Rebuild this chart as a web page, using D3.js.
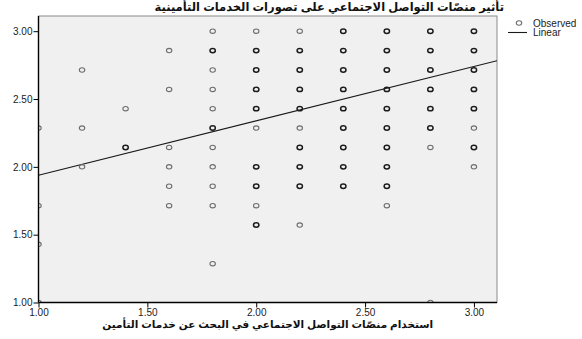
<!DOCTYPE html>
<html>
<head>
<meta charset="utf-8">
<script src="https://cdn.jsdelivr.net/npm/d3@7/dist/d3.min.js"></script>
<style>
  body { margin: 0; background: #fff; }
  svg text { font-family: "Liberation Sans", Arial, "DejaVu Sans", sans-serif; }
</style>
</head>
<body>
<svg id="chart" width="582" height="339"></svg>
<script>
// Axis ticks
const xTicks = [1.00, 1.50, 2.00, 2.50, 3.00];
const yTicks = [1.00, 1.50, 2.00, 2.50, 3.00];

// Observed scale means: x = use of social platforms, y = perception of insurance services
const obsX = [
  1.0, 1.0, 1.0, 1.0,
  1.2, 1.2, 1.2,
  1.4, 1.4,
  1.6, 1.6, 1.6, 1.6, 1.6, 1.6,
  1.8, 1.8, 1.8, 1.8, 1.8, 1.8, 1.8, 1.8, 1.8, 1.8, 1.8,
  2.0, 2.0, 2.0, 2.0, 2.0, 2.0, 2.0, 2.0, 2.0, 2.0,
  2.2, 2.2, 2.2, 2.2, 2.2, 2.2, 2.2, 2.2, 2.2, 2.2,
  2.4, 2.4, 2.4, 2.4, 2.4, 2.4, 2.4, 2.4, 2.4,
  2.6, 2.6, 2.6, 2.6, 2.6, 2.6, 2.6, 2.6, 2.6, 2.6,
  2.8, 2.8, 2.8, 2.8, 2.8, 2.8, 2.8, 2.8,
  3.0, 3.0, 3.0, 3.0, 3.0, 3.0, 3.0, 3.0
];
const obsY = [
  2.286, 1.714, 1.429, 1.000,
  2.714, 2.286, 2.000,
  2.429, 2.143,
  2.857, 2.571, 2.143, 2.000, 1.857, 1.714,
  3.000, 2.857, 2.714, 2.571, 2.429, 2.286, 2.143, 2.000, 1.857, 1.714, 1.286,
  3.000, 2.857, 2.714, 2.571, 2.429, 2.286, 2.000, 1.857, 1.714, 1.571,
  3.000, 2.857, 2.714, 2.571, 2.429, 2.286, 2.143, 2.000, 1.857, 1.571,
  3.000, 2.857, 2.714, 2.571, 2.429, 2.286, 2.143, 2.000, 1.857,
  3.000, 2.857, 2.714, 2.571, 2.429, 2.286, 2.143, 2.000, 1.857, 1.714,
  3.000, 2.857, 2.714, 2.571, 2.429, 2.286, 2.143, 1.000,
  3.000, 2.857, 2.714, 2.571, 2.429, 2.286, 2.143, 2.000
];
// Estimated number of respondents sharing each position (1 = single, 2 = several)
const obsN = [
  1, 1, 1, 1,
  1, 1, 1,
  1, 2,
  1, 1, 1, 1, 1, 1,
  1, 2, 1, 1, 1, 2, 1, 1, 1, 1, 1,
  1, 2, 2, 2, 2, 1, 2, 2, 1, 2,
  1, 2, 2, 2, 2, 1, 2, 2, 2, 1,
  2, 2, 2, 2, 2, 2, 2, 2, 2,
  2, 2, 2, 2, 2, 2, 2, 2, 2, 1,
  2, 2, 2, 2, 2, 2, 1, 1,
  2, 2, 2, 2, 2, 1, 2, 1
];

// Linear fit line
const fitIntercept = 1.538;
const fitSlope = 0.4005;

const titleText = "تأثير منصّات التواصل الاجتماعي على تصورات الخدمات التأمينية";
const xLabel = "استخدام منصّات التواصل الاجتماعي في البحث عن خدمات التأمين";
const legendLabels = ["Observed", "Linear"];

const svg = d3.select("#chart");
const plot = { left: 38.5, right: 497, top: 16, bottom: 302.5 };

const x = d3.scaleLinear().domain([1, 3.106]).range([plot.left, plot.right]);
const y = d3.scaleLinear().domain([1, 3.112]).range([plot.bottom, plot.top]);

// plot background and frame
svg.append("rect")
  .attr("x", plot.left).attr("y", plot.top)
  .attr("width", plot.right - plot.left).attr("height", plot.bottom - plot.top)
  .attr("fill", "#f0f0f0").attr("stroke", "#8a8a8a").attr("stroke-width", 1);

svg.append("defs").append("clipPath").attr("id", "plotClip")
  .append("rect")
  .attr("x", plot.left).attr("y", plot.top)
  .attr("width", plot.right - plot.left).attr("height", plot.bottom - plot.top);

const inner = svg.append("g").attr("clip-path", "url(#plotClip)");

// fit line
const xd = x.domain();
inner.append("line")
  .attr("x1", x(xd[0])).attr("y1", y(fitIntercept + fitSlope * xd[0]))
  .attr("x2", x(xd[1])).attr("y2", y(fitIntercept + fitSlope * xd[1]))
  .attr("stroke", "#1a1a1a").attr("stroke-width", 1.1);

// observed points
const pts = obsX.map((v, i) => ({ x: v, y: obsY[i], n: obsN[i] }));
inner.selectAll("ellipse.obs").data(pts).join("ellipse")
  .attr("class", "obs")
  .attr("cx", d => x(d.x)).attr("cy", d => y(d.y))
  .attr("rx", 2.7).attr("ry", 2.2)
  .attr("fill", "none")
  .attr("stroke", d => d.n > 1 ? "#1c1c1c" : "#6e6e6e")
  .attr("stroke-width", d => d.n > 1 ? 1.5 : 1.1);

// axes
const fmt = d3.format(".2f");
const xAxis = svg.append("g")
  .attr("transform", `translate(0,${plot.bottom})`)
  .call(d3.axisBottom(x).tickValues(xTicks).tickFormat(fmt).tickSize(5).tickPadding(1));
const yAxis = svg.append("g")
  .attr("transform", `translate(${plot.left},0)`)
  .call(d3.axisLeft(y).tickValues(yTicks).tickFormat(fmt).tickSize(5).tickPadding(1));

[xAxis, yAxis].forEach(g => {
  g.select(".domain").remove();
  g.selectAll(".tick line").attr("stroke", "#000").attr("stroke-width", 1);
  g.selectAll(".tick text").attr("fill", "#222").style("font-size", "10px");
});

// solid axis lines
svg.append("line")
  .attr("x1", x(1)).attr("x2", x(1)).attr("y1", plot.top).attr("y2", plot.bottom)
  .attr("stroke", "#000").attr("stroke-width", 1.4);
svg.append("line")
  .attr("x1", plot.left).attr("x2", plot.right).attr("y1", y(1)).attr("y2", y(1))
  .attr("stroke", "#000").attr("stroke-width", 1.4);

// title
svg.append("text")
  .attr("x", 504).attr("y", 11)
  .attr("text-anchor", "start")
  .attr("direction", "rtl")
  .style("font-size", "11.5px").style("font-weight", "bold")
  .attr("fill", "#111")
  .text(titleText);

// x-axis label
svg.append("text")
  .attr("x", (plot.left + plot.right) / 2).attr("y", 328)
  .attr("text-anchor", "middle")
  .attr("direction", "rtl")
  .style("font-size", "10.5px").style("font-weight", "bold")
  .attr("fill", "#111")
  .text(xLabel);

// legend
const lg = svg.append("g");
lg.append("ellipse")
  .attr("cx", 519).attr("cy", 23).attr("rx", 2.7).attr("ry", 2.2)
  .attr("fill", "none").attr("stroke", "#6e6e6e").attr("stroke-width", 1.1);
lg.append("line")
  .attr("x1", 508).attr("x2", 527).attr("y1", 32.5).attr("y2", 32.5)
  .attr("stroke", "#1a1a1a").attr("stroke-width", 1.1);
lg.selectAll("text").data(legendLabels).join("text")
  .attr("x", 533).attr("y", (d, i) => 26.5 + i * 9.5)
  .style("font-size", "10px").attr("fill", "#222")
  .text(d => d);
</script>
</body>
</html>
